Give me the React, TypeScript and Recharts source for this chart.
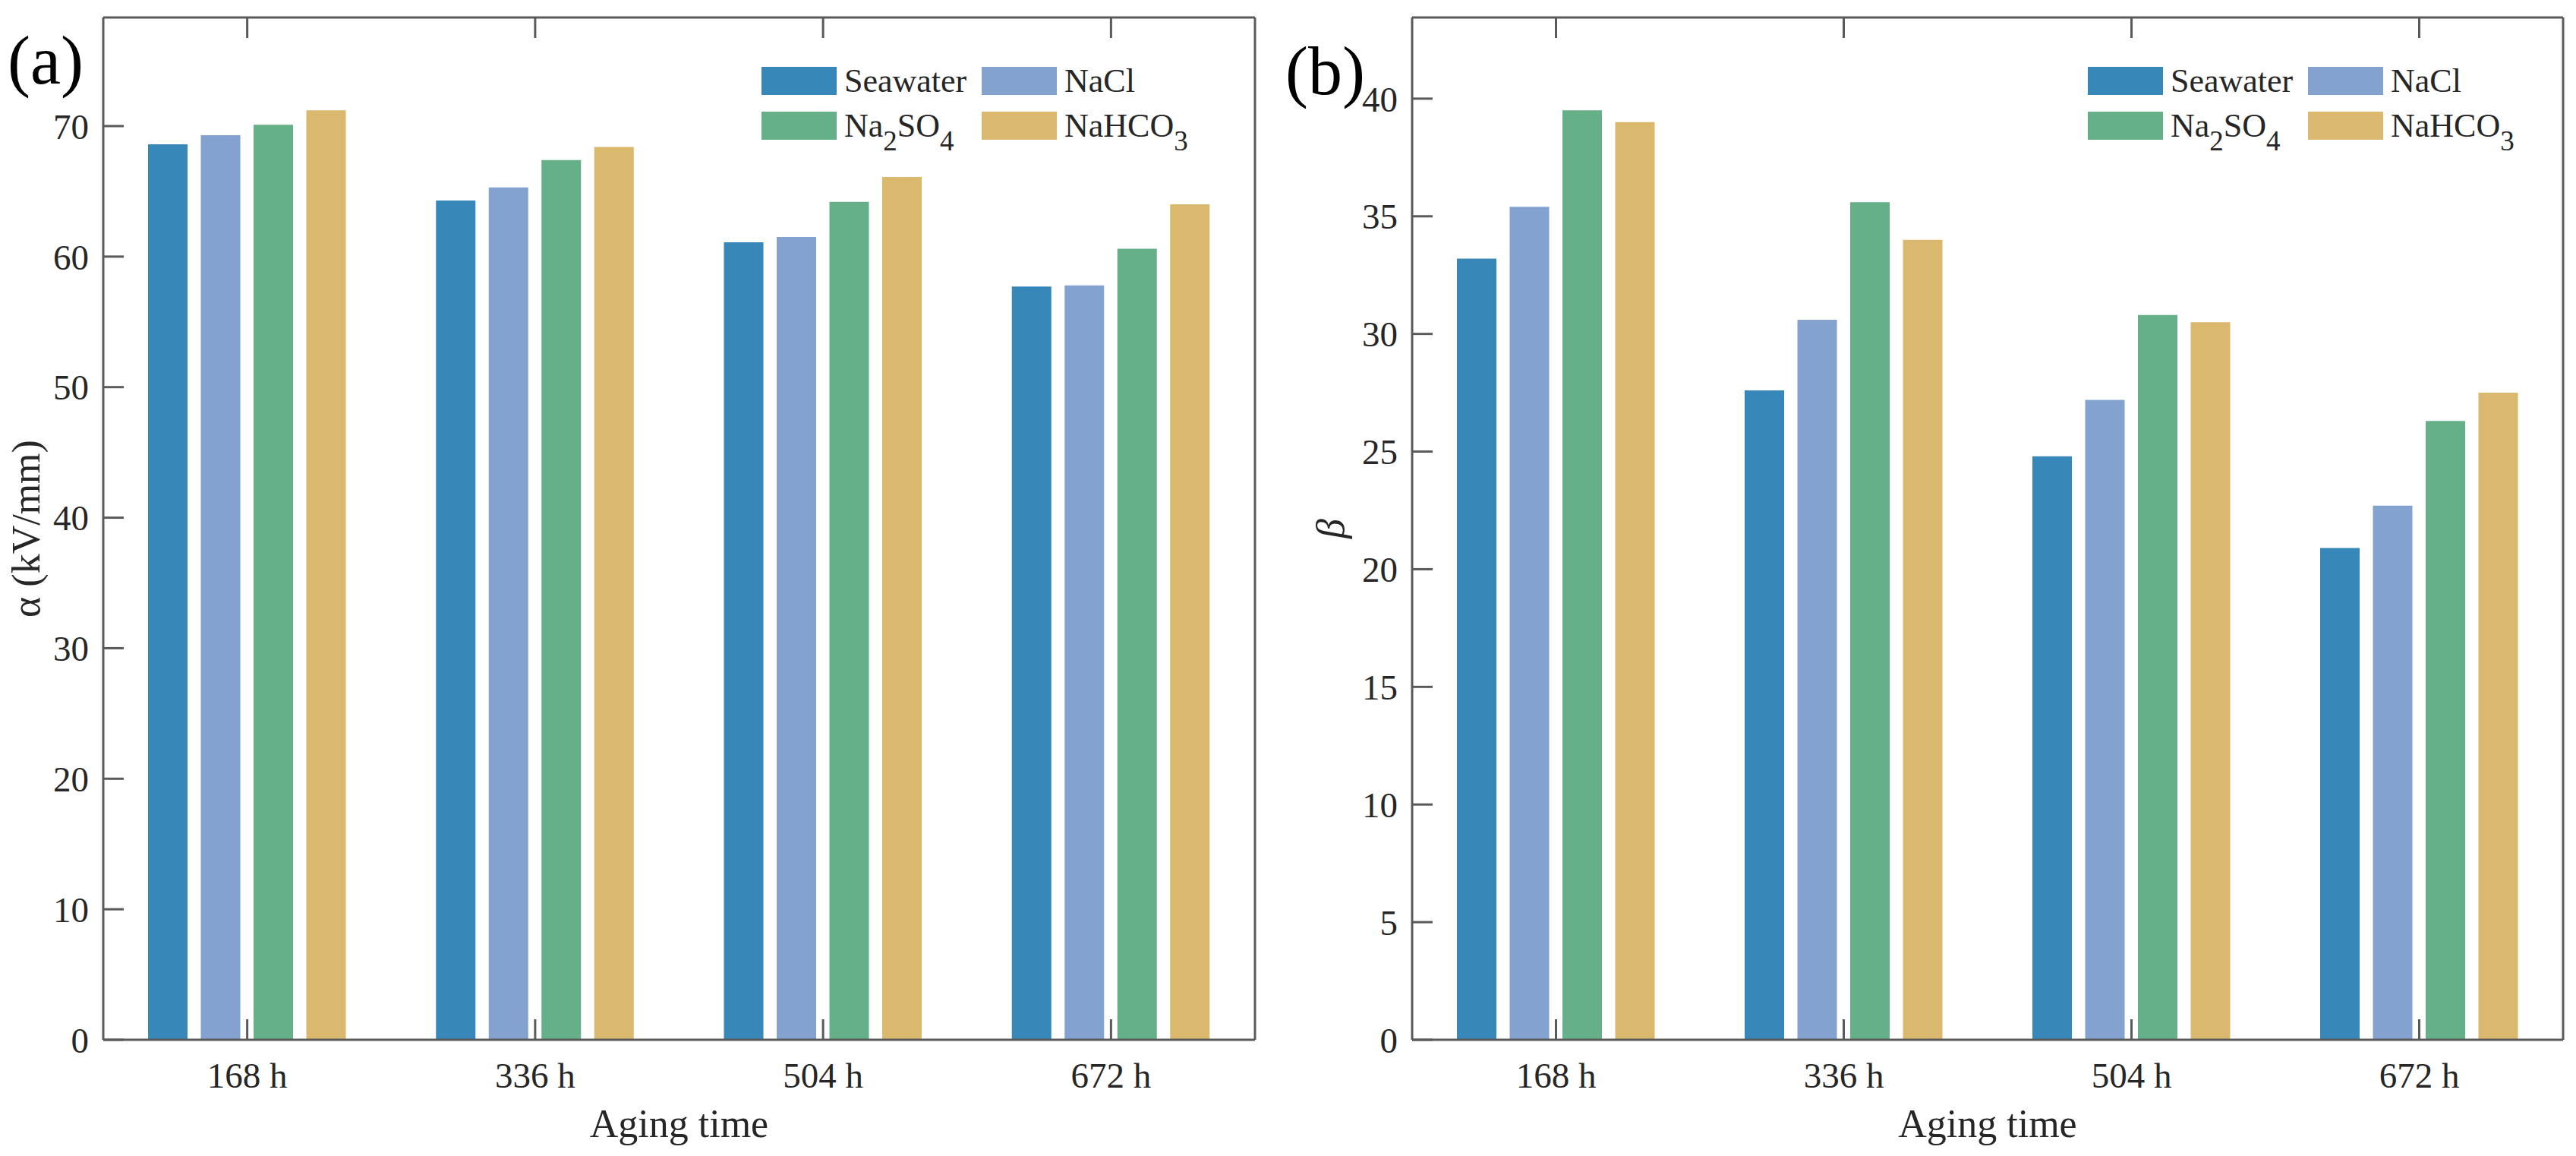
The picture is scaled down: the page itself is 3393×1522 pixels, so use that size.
import React from 'react';
import { BarChart, Bar, XAxis, YAxis, Legend } from 'recharts';

// categories and series
const agingTimes = ['168 h', '336 h', '504 h', '672 h'];
const seriesNames = ['Seawater', 'NaCl', 'Na2SO4', 'NaHCO3'];
const seriesColors = ['#3787b8', '#84a2cf', '#66b089', '#dab86e'];

// (a) alpha, kV/mm
const alphaSeawater = [68.6, 64.3, 61.1, 57.7];
const alphaNaCl = [69.3, 65.3, 61.5, 57.8];
const alphaNa2SO4 = [70.1, 67.4, 64.2, 60.6];
const alphaNaHCO3 = [71.2, 68.4, 66.1, 64.0];

// (b) beta
const betaSeawater = [33.2, 27.6, 24.8, 20.9];
const betaNaCl = [35.4, 30.6, 27.2, 22.7];
const betaNa2SO4 = [39.5, 35.6, 30.8, 26.3];
const betaNaHCO3 = [39.0, 34.0, 30.5, 27.5];

const alphaTicks = [0, 10, 20, 30, 40, 50, 60, 70];
const betaTicks = [0, 5, 10, 15, 20, 25, 30, 35, 40];

const FONT = '"Liberation Serif", "Times New Roman", serif';
const TEXT = '#262626';
const AXIS = '#5a5a5a';

const buildRows = (series: number[][]) =>
  agingTimes.map((time, i) => {
    const row: Record<string, string | number> = { time };
    seriesNames.forEach((name, s) => {
      row[name] = series[s][i];
    });
    return row;
  });

const alphaRows = buildRows([alphaSeawater, alphaNaCl, alphaNa2SO4, alphaNaHCO3]);
const betaRows = buildRows([betaSeawater, betaNaCl, betaNa2SO4, betaNaHCO3]);

// digits in chemical names become subscripts
const chemName = (name: string) =>
  name.split(/(\d)/).map((part, i) =>
    /\d/.test(part) ? (
      <span key={i} style={{ fontSize: 37, position: 'relative', top: 18, lineHeight: 0 }}>
        {part}
      </span>
    ) : (
      <span key={i}>{part}</span>
    )
  );

const LegendGrid = (props: any) => {
  // keep the series order (Recharts sorts legend items by name)
  const items = [...(props.payload || [])].sort(
    (a: any, b: any) => seriesNames.indexOf(String(a.value)) - seriesNames.indexOf(String(b.value))
  );
  return (
    <div style={{ display: 'grid', gridTemplateColumns: '290px auto', fontFamily: FONT, fontSize: 44, color: TEXT }}>
      {items.map((item: any) => (
        <div key={item.value} style={{ display: 'flex', alignItems: 'center', height: 59, lineHeight: 1 }}>
          <div style={{ width: 99, height: 37, background: item.color, marginRight: 10, flex: 'none' }} />
          <span style={{ whiteSpace: 'nowrap' }}>{chemName(String(item.value))}</span>
        </div>
      ))}
    </div>
  );
};

const NoLabel = () => <g />;

interface PanelProps {
  rows: Record<string, string | number>[];
  ticks: number[];
  yMax: number;
  width: number;
  yAxisWidth: number;
  marginRight: number;
  legendLeft: number;
  yLabel: string;
  yLabelItalic?: boolean;
  yLabelOffset: number;
}

const Panel: React.FC<PanelProps> = ({
  rows, ticks, yMax, width, yAxisWidth, marginRight, legendLeft, yLabel, yLabelItalic, yLabelOffset,
}) => {
  const axisLine = { stroke: AXIS, strokeWidth: 3 };
  const tickLine = { stroke: AXIS, strokeWidth: 3 };
  const tickStyle = { fontSize: 47, fill: TEXT, fontFamily: FONT };

  const renderYLabel = (p: any) => {
    const vb = p.viewBox || { x: 0, y: 23, width: yAxisWidth, height: 1346 };
    const x = vb.x + yLabelOffset;
    const y = vb.y + vb.height / 2;
    return (
      <text
        x={x}
        y={y}
        transform={`rotate(-90 ${x} ${y})`}
        textAnchor="middle"
        fontSize={52}
        fontFamily={FONT}
        fontStyle={yLabelItalic ? 'italic' : 'normal'}
        fill={TEXT}
      >
        {yLabel}
      </text>
    );
  };

  const renderXLabel = (p: any) => {
    const vb = p.viewBox || { x: yAxisWidth, y: 1369, width: width - yAxisWidth - marginRight, height: 153 };
    return (
      <text x={vb.x + vb.width / 2} y={vb.y + 128} textAnchor="middle" fontSize={52} fontFamily={FONT} fill={TEXT}>
        Aging time
      </text>
    );
  };

  return (
    <BarChart
      width={width}
      height={1522}
      data={rows}
      margin={{ top: 22, right: marginRight, bottom: 0, left: 0 }}
      barSize={52}
      barGap={17.5}
    >
      <XAxis
        dataKey="time"
        height={153}
        interval={0}
        axisLine={axisLine}
        tickLine={tickLine}
        tickSize={-27}
        tickMargin={57}
        tick={tickStyle}
        label={{ content: renderXLabel }}
      />
      <XAxis
        xAxisId="top"
        orientation="top"
        dataKey="time"
        height={1}
        interval={0}
        axisLine={axisLine}
        tickLine={tickLine}
        tickSize={-27}
        tick={NoLabel}
      />
      <YAxis
        width={yAxisWidth}
        domain={[0, yMax]}
        ticks={ticks}
        interval={0}
        axisLine={axisLine}
        tickLine={tickLine}
        tickSize={-27}
        tickMargin={46}
        tick={tickStyle}
        label={{ content: renderYLabel }}
      />
      <YAxis
        yAxisId="mirror"
        orientation="right"
        width={1}
        domain={[0, yMax]}
        ticks={ticks}
        interval={0}
        axisLine={axisLine}
        tickLine={tickLine}
        tickSize={-27}
        tick={NoLabel}
      />
      <Legend
        layout="horizontal"
        verticalAlign="middle"
        align="center"
        content={<LegendGrid />}
        wrapperStyle={{ left: legendLeft, top: 77, width: 560, height: 118 }}
      />
      {seriesNames.map((name, s) => (
        <Bar key={name} dataKey={name} name={name} fill={seriesColors[s]} isAnimationActive={false} />
      ))}
    </BarChart>
  );
};

const App: React.FC = () => {
  const alphaMax = Math.max(...alphaSeawater, ...alphaNaCl, ...alphaNa2SO4, ...alphaNaHCO3) * 1.1;
  const betaMax = Math.max(...betaSeawater, ...betaNaCl, ...betaNa2SO4, ...betaNaHCO3) * 1.1;

  return (
    <div style={{ position: 'absolute', left: 0, top: 0, width: 3393, height: 1522, background: '#fff', overflow: 'hidden' }}>
      <div style={{ position: 'absolute', left: 0, top: 0 }}>
        <Panel
          rows={alphaRows}
          ticks={alphaTicks}
          yMax={alphaMax}
          width={1700}
          yAxisWidth={136}
          marginRight={46}
          legendLeft={1003}
          yLabel="α (kV/mm)"
          yLabelOffset={52}
        />
      </div>
      <div style={{ position: 'absolute', left: 1700, top: 0 }}>
        <Panel
          rows={betaRows}
          ticks={betaTicks}
          yMax={betaMax}
          width={1693}
          yAxisWidth={160}
          marginRight={16}
          legendLeft={1050}
          yLabel="β"
          yLabelItalic
          yLabelOffset={70}
        />
      </div>
      <svg width={3393} height={1522} style={{ position: 'absolute', left: 0, top: 0, pointerEvents: 'none' }}>
        <text x={10} y={110} fontSize={90} fontFamily={FONT} fill="#000">(a)</text>
        <text x={1693} y={124} fontSize={90} fontFamily={FONT} fill="#000">(b)</text>
      </svg>
    </div>
  );
};

export default App;
